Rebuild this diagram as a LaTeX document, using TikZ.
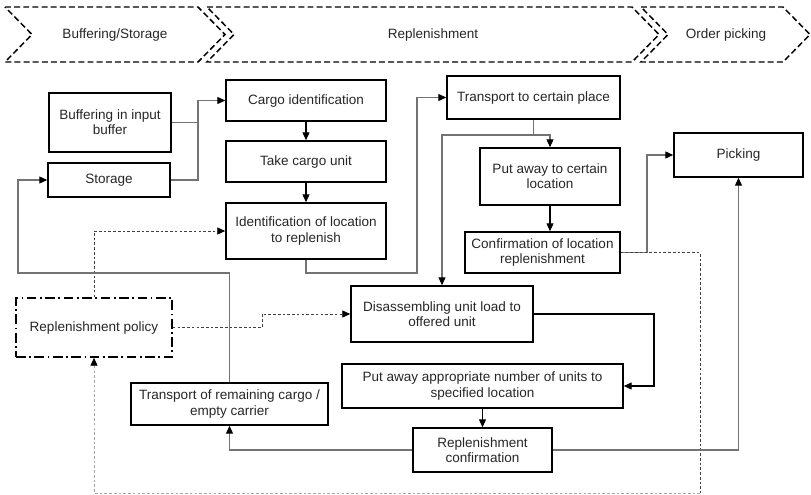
\documentclass[tikz,border=0pt]{standalone}
\usepackage{fontspec}
\setmainfont{Liberation Sans}
\usetikzlibrary{arrows.meta}

\begin{document}
\begin{tikzpicture}[
        x=0.02cm, y=-0.02cm, % one unit = one pixel of the sketch
        every node/.style={font=\fontsize{7.7}{8.6}\selectfont, text=black!85},
        proc/.style 2 args={draw, line width=0.9pt, minimum width=#1*0.02cm, minimum height=#2*0.02cm, inner sep=0pt, align=center},
        policybox/.style={proc={#1}{59}, dash pattern=on 5.5pt off 2pt on 1pt off 2pt},
        phase/.style={draw, line width=0.85pt, dash pattern=on 3.4pt off 1.8pt},
        link/.style={draw=black!55, line width=0.6pt, -{Triangle[length=4.5pt, width=4pt, color=black]}},
        flow/.style={draw=black, line width=0.6pt, -{Triangle[length=4.5pt, width=4pt]}},
        dlink/.style={draw=black!75, line width=0.5pt, dash pattern=on 1.5pt off 1.2pt, -{Triangle[length=4.5pt, width=4pt, color=black]}}
      ]
      \useasboundingbox (0,0) rectangle (811,494);

      % Phases
      \draw[phase] (5,7) -- (198,7) -- (225,34.5) -- (198,62) -- (5,62) -- (32,34.5) -- cycle;
      \draw[phase] (207,7) -- (632,7) -- (659,34.5) -- (632,62) -- (207,62) -- (234,34.5) -- cycle;
      \draw[phase] (641,7) -- (783,7) -- (810,34.5) -- (783,62) -- (641,62) -- (668,34.5) -- cycle;
      \node (ph1) at (115,35) {Buffering/Storage};
      \node (ph2) at (433,35) {Replenishment};
      \node (ph3) at (726,35) {Order picking};

      % Nodes
      \node (buf) [proc={122}{59}] at (110,122.5) {Buffering in input\\buffer};
      \node (stor) [proc={122}{34}] at (109,180) {Storage};
      \node (cargo) [proc={160}{41}] at (306,100.5) {Cargo identification};
      \node (take) [proc={160}{41}] at (306,161.5) {Take cargo unit};
      \node (idloc) [proc={160}{56}] at (306,231) {Identification of location\\to replenish};
      \node (trans) [proc={173}{43}] at (533.5,97.5) {Transport to certain place};
      \node (putc) [proc={140}{57}] at (550,176.5) {Put away to certain\\location};
      \node (conf) [proc={155}{41}] at (542.5,252.5) {Confirmation of location\\replenishment};
      \node (pick) [proc={129}{44}] at (738.5,155) {Picking};
      \node (disas) [proc={182}{56}] at (442,314) {Disassembling unit load to\\offered unit};
      \node (putn) [proc={281}{44}] at (482.5,386) {Put away appropriate number of units to\\specified location};
      \node (rconf) [proc={139}{44}] at (482.5,450) {Replenishment\\confirmation};
      \node (rest) [proc={197}{42}] at (229.5,404) {Transport of remaining cargo /\\empty carrier};
      \node (policy) [policybox={156}] at (94,327.5) {Replenishment policy};

      % Bend points
      \coordinate (jA) at (198,100.5);
      \coordinate (jB) at (417,273);
      \coordinate (jC) at (533.5,135);
      \coordinate (jD) at (647,155);
      \coordinate (jE) at (700,493);
      \coordinate (jF) at (262,314);
      \coordinate (jG) at (654,386);
      \coordinate (jH) at (18,273);

      % Arrows
      \draw[link] (buf.east) -| (jA) -- (cargo.west);
      \draw[draw=black!55, line width=0.6pt] (stor.east) -| (jA);
      \draw[flow] (cargo) -- (take);
      \draw[flow] (take) -- (idloc);
      \draw[link] (idloc.south) |- (jB) |- (trans.west);
      \draw[draw=black!55, line width=0.6pt] (trans.south) -- (jC);
      \draw[link] (jC) -| (putc.north);
      \draw[link] (jC) -| (disas.north);
      \draw[flow] (putc.south) -- (putc.south |- conf.north);
      \draw[link] (conf.east) -| (jD) -- (pick.west);
      \draw[dlink, -] (conf.east) -| (jE);
      \draw[dlink, draw=black!35] (jE) -| (policy.south);
      \draw[dlink] (policy.north) |- (idloc.west);
      \draw[dlink] (policy.east) -| (jF) -- (disas.west);
      \draw[flow] (disas.east) -| (jG) -- (putn.east);
      \draw[flow] (putn) -- (rconf);
      \draw[link] (rconf.west) -| (rest.south);
      \draw[link] (rconf.east) -| (pick.south);
      \draw[link] (rest.north) |- (jH) |- (stor.west);

    \end{tikzpicture}
\end{document}
